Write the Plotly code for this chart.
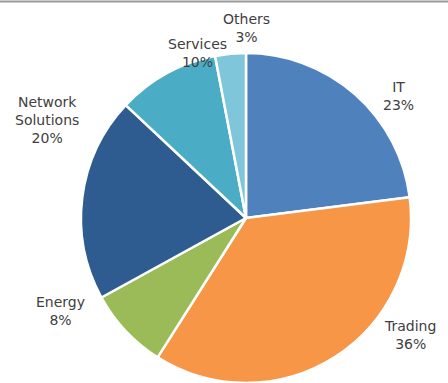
import plotly.graph_objects as go

# Revenue share by business segment (percent)
segments = ["IT", "Trading", "Energy", "Network<br>Solutions", "Services", "Others"]
shares = [23, 36, 8, 20, 10, 3]
colors = ["#4F81BD", "#F79646", "#9BBB59", "#2F5C90", "#4BACC6", "#7FC6DA"]

W, H = 448, 383

# Label anchor points in pixels (centre of each text block)
label_px = [(398, 96), (410, 335), (60, 311), (47, 120), (197, 53), (246, 28)]

fig = go.Figure(
    go.Pie(
        labels=segments,
        values=shares,
        sort=False,
        direction="clockwise",
        rotation=0,
        marker=dict(colors=colors, line=dict(color="white", width=2.5)),
        textinfo="none",
        hoverinfo="label+percent",
        showlegend=False,
        domain=dict(x=[81 / W, 411 / W], y=[0, 1 - 53 / H]),
    )
)

for name, val, (px, py) in zip(segments, shares, label_px):
    fig.add_annotation(
        x=px / W, y=1 - py / H, xref="paper", yref="paper",
        text=f"{name}<br>{val}%", showarrow=False,
        xanchor="center", yanchor="middle", align="center",
        font=dict(family="DejaVu Sans", size=14, color="#404040"),
    )

# thin rule along the top edge
fig.add_shape(type="line", xref="paper", yref="paper",
              x0=0, x1=1, y0=1 - 1.5 / H, y1=1 - 1.5 / H,
              line=dict(color="#9a9a9a", width=2))

fig.update_layout(
    width=W, height=H,
    margin=dict(l=0, r=0, t=0, b=0),
    paper_bgcolor="white", plot_bgcolor="white",
)

fig.write_html("out.html")
